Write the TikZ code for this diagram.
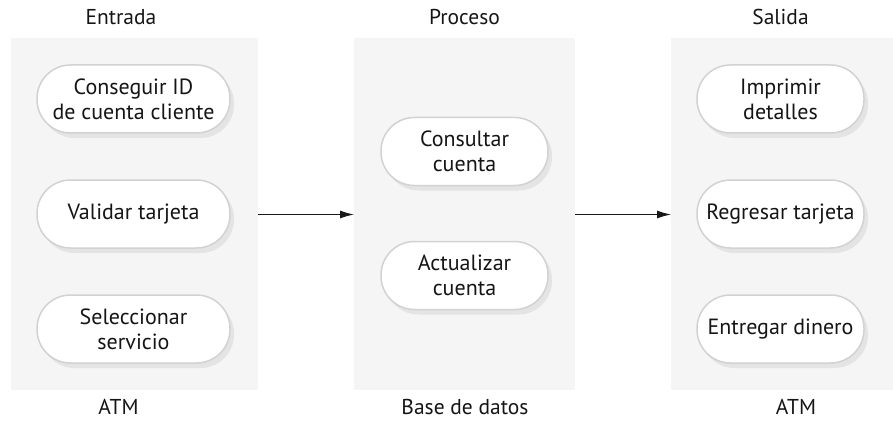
\documentclass[tikz,border=0pt]{standalone}
\usepackage{fontspec}
\setmainfont{PT Sans}
\usetikzlibrary{shadows,arrows.meta}
\definecolor{panelgray}{HTML}{F5F5F5}
\definecolor{nodeborder}{HTML}{D2D2D2}
\definecolor{shadowgray}{HTML}{E4E4E4}
\definecolor{txt}{HTML}{151515}
\begin{document}
\begin{tikzpicture}[x=1pt,y=-1pt,
  panel/.style={fill=panelgray,draw=none},
  pill/.style={draw=nodeborder,line width=1.5pt,fill=white,rounded corners=33.5pt,text=txt,
    minimum height=68pt,align=center,inner sep=0pt,font=\fontsize{22}{25}\selectfont,
    drop shadow={shadow xshift=4pt,shadow yshift=-5pt,fill=shadowgray,opacity=1}},
  lab/.style={font=\fontsize{21.5}{25}\selectfont,inner sep=0pt,text=txt},
  flow/.style={draw=black!90,line width=1pt,-{Latex[length=14pt,width=8pt]}}
]
\useasboundingbox (0,0) rectangle (893,422);
% panels
\path[panel] (11,38) rectangle (258,390);
\path[panel] (354,38) rectangle (575,390);
\path[panel] (671,38) rectangle (893,390);
\coordinate (p1r) at (258,214.5);
\coordinate (p2l) at (354,214.5);
\coordinate (p2r) at (575,214.5);
\coordinate (p3l) at (671,214.5);
% titles
\node[lab] (t1) at (121,17) {Entrada};
\node[lab] (t2) at (464.5,17) {Proceso};
\node[lab] (t3) at (780.5,17) {Salida};
\node[lab] (b1) at (118.5,407) {ATM};
\node[lab] (b2) at (465,407) {Base de datos};
\node[lab] (b3) at (796,407) {ATM};
% nodes
\node[pill,minimum width=193pt] (n1) at (133.5,99) {Conseguir ID\\de cuenta cliente};
\node[pill,minimum width=193pt] (n2) at (133.5,214) {Validar tarjeta};
\node[pill,minimum width=193pt] (n3) at (133.5,329) {Seleccionar\\servicio};
\node[pill,minimum width=167pt] (m1) at (464.5,151.5) {Consultar\\cuenta};
\node[pill,minimum width=167pt] (m2) at (464.5,275.5) {Actualizar\\cuenta};
\node[pill,minimum width=167pt] (o1) at (780.5,99) {Imprimir\\detalles};
\node[pill,minimum width=167pt] (o2) at (780.5,214) {Regresar tarjeta};
\node[pill,minimum width=167pt] (o3) at (780.5,329) {Entregar dinero};
% arrows
\draw[flow] (p1r) -- (p2l);
\draw[flow] (p2r) -- (p3l);
\end{tikzpicture}
\end{document}
